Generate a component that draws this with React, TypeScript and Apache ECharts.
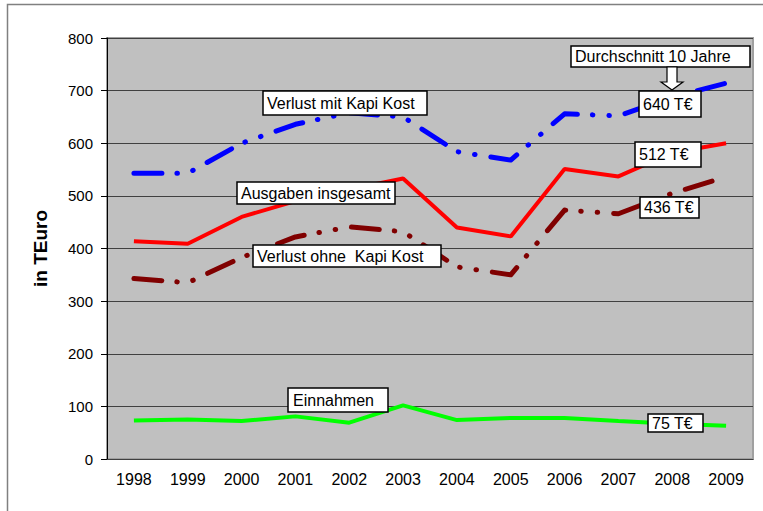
import React, { useEffect, useRef } from "react";
import * as echarts from "echarts";

const years = ["1998", "1999", "2000", "2001", "2002", "2003", "2004", "2005", "2006", "2007", "2008", "2009"];
const verlustMitKapi = [543, 543, 600, 636, 658, 650, 584, 568, 656, 652, 688, 714];
const ausgaben = [414, 409, 460, 490, 512, 533, 440, 423, 551, 537, 582, 600];
const verlustOhneKapi = [343, 335, 383, 422, 441, 432, 365, 350, 473, 466, 505, 536];
const einnahmen = [73, 75, 72, 81, 69, 102, 74, 78, 78, 72, 67, 63];

const yTicks = { min: 0, max: 800, interval: 100 };

const FONT = "'Liberation Sans', Arial, sans-serif";
const dashDotDot = [28, 15, 0.5, 16, 0.5, 16];

function labelBox(x: number, y: number, w: number, h: number, text: string, tx: number) {
  return {
    type: "group",
    z: 100,
    children: [
      {
        type: "rect",
        z: 100,
        shape: { x, y, width: w, height: h },
        style: { fill: "#ffffff", stroke: "#000000", lineWidth: 1.5 },
      },
      {
        type: "text",
        z: 101,
        x: tx,
        y: y + h / 2,
        style: {
          text,
          fill: "#000000",
          font: `16px ${FONT}`,
          textAlign: "left",
          textVerticalAlign: "middle",
        },
      },
    ],
  };
}

export default function App() {
  const ref = useRef<HTMLDivElement>(null);

  useEffect(() => {
    if (!ref.current) return;
    const chart = echarts.init(ref.current, undefined, { renderer: "svg" });
    chart.setOption({
      animation: false,
      backgroundColor: "#ffffff",
      grid: {
        left: 107,
        right: 10,
        top: 38,
        bottom: 52,
        show: true,
        backgroundColor: "#c0c0c0",
        borderColor: "#a0a0a0",
        borderWidth: 2,
      },
      xAxis: {
        type: "category",
        data: years,
        boundaryGap: true,
        axisLine: { show: true, lineStyle: { color: "#404040", width: 1 } },
        axisTick: { show: false },
        axisLabel: { color: "#000000", fontSize: 16, fontFamily: FONT, margin: 12 },
        splitLine: { show: false },
      },
      yAxis: {
        type: "value",
        min: yTicks.min,
        max: yTicks.max,
        interval: yTicks.interval,
        name: "in TEuro",
        nameLocation: "middle",
        nameGap: 57,
        nameRotate: 90,
        nameTextStyle: { color: "#000000", fontSize: 19, fontWeight: "bold", fontFamily: FONT },
        axisLine: { show: true, lineStyle: { color: "#000000", width: 1 } },
        axisTick: { show: true, inside: false, length: 6, lineStyle: { color: "#000000" } },
        axisLabel: { color: "#000000", fontSize: 15, fontFamily: FONT, margin: 14 },
        splitLine: { show: true, lineStyle: { color: "#404040", width: 1 } },
      },
      series: [
        {
          name: "Verlust mit Kapi Kost",
          type: "line",
          data: verlustMitKapi,
          symbol: "none",
          lineStyle: { color: "#0000ff", width: 5, type: dashDotDot, cap: "round", join: "round" },
        },
        {
          name: "Ausgaben insgesamt",
          type: "line",
          data: ausgaben,
          symbol: "none",
          lineStyle: { color: "#ff0000", width: 4, type: "solid" },
        },
        {
          name: "Verlust ohne Kapi Kost",
          type: "line",
          data: verlustOhneKapi,
          symbol: "none",
          lineStyle: { color: "#800000", width: 5, type: dashDotDot, cap: "round", join: "round" },
        },
        {
          name: "Einnahmen",
          type: "line",
          data: einnahmen,
          symbol: "none",
          lineStyle: { color: "#00ff00", width: 4, type: "solid" },
        },
      ],
      graphic: [
        {
          type: "polyline",
          z: 100,
          shape: { points: [[7.5, 511], [7.5, 4.5], [763, 4.5]] },
          style: { stroke: "#808080", lineWidth: 1.5, fill: "none" },
        },
        labelBox(263, 91, 164, 24, "Verlust mit Kapi Kost", 267),
        labelBox(237, 182, 158, 22, "Ausgaben insgesamt", 241),
        labelBox(253, 245, 188, 22, "Verlust ohne  Kapi Kost", 257),
        labelBox(288, 388, 100, 24, "Einnahmen", 293),
        labelBox(571, 46, 179, 21, "Durchschnitt 10 Jahre", 575),
        {
          type: "polygon",
          z: 100,
          shape: {
            points: [
              [667, 67],
              [677, 67],
              [677, 82],
              [683, 82],
              [672, 90],
              [661, 82],
              [667, 82],
            ],
          },
          style: { fill: "#ffffff", stroke: "#000000", lineWidth: 1.2 },
        },
        labelBox(639, 91, 62, 26, "640 T€", 643),
        labelBox(635, 142, 66, 25, "512 T€", 639),
        labelBox(640, 197, 59, 21, "436 T€", 644),
        labelBox(648, 414, 55, 18, "75 T€", 652),
      ],
    });
    return () => chart.dispose();
  }, []);

  return (
    <div
      ref={ref}
      style={{ position: "fixed", left: 0, top: 0, width: 763, height: 511 }}
    />
  );
}
